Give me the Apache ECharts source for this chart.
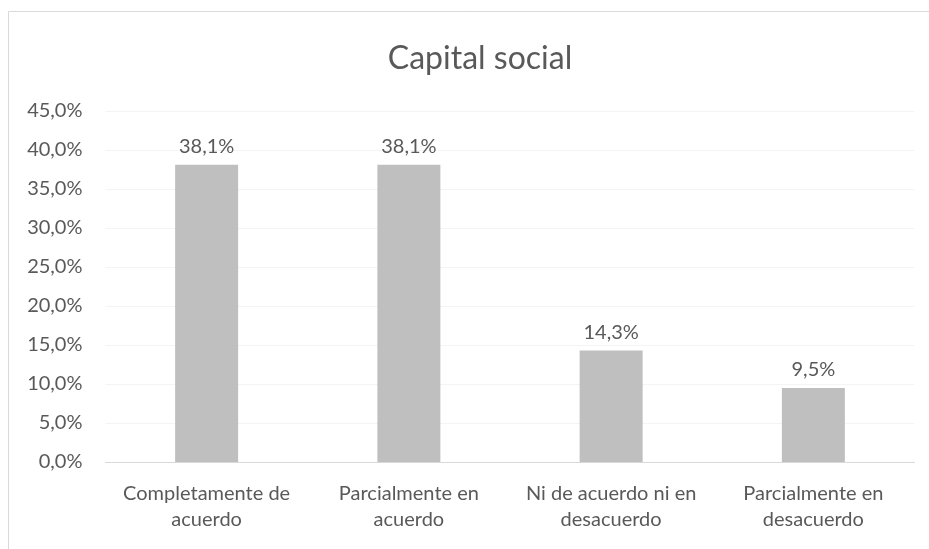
<!DOCTYPE html>
<html><head><meta charset="utf-8">
<script src="https://cdn.jsdelivr.net/npm/echarts@6/dist/echarts.min.js"></script>
<style>html,body{margin:0;padding:0;background:#fff}#c{width:929px;height:549px}</style>
</head><body><div id="c"></div>
<script>
const categories = ['Completamente de\nacuerdo', 'Parcialmente en\nacuerdo', 'Ni de acuerdo ni en\ndesacuerdo', 'Parcialmente en\ndesacuerdo'];
const values = [38.1, 38.1, 14.3, 9.5];
const title = 'Capital social';
const fmt = v => v.toFixed(1).replace('.', ',') + '%';
const font = 'Lato, "Open Sans", sans-serif';
const chart = echarts.init(document.getElementById('c'));
chart.setOption({
  animation: false,
  backgroundColor: '#fff',
  textStyle: { fontFamily: font },
  graphic: [{ type: 'rect', shape: { x: 8.5, y: 11.5, width: 940, height: 560 }, style: { fill: 'none', stroke: '#d9d9d9', lineWidth: 1 } }],
  title: { text: title, left: 475, textAlign: 'center', top: 38, textStyle: { fontFamily: font, fontSize: 32, fontWeight: 'normal', color: '#595959' } },
  grid: { left: 105.5, right: 14.5, top: 111, bottom: 87 },
  xAxis: {
    type: 'category', data: categories,
    axisLine: { lineStyle: { color: '#d9d9d9' } }, axisTick: { show: false },
    axisLabel: { interval: 0, hideOverlap: false, color: '#595959', fontSize: 20, lineHeight: 26, margin: 19, fontFamily: font }
  },
  yAxis: {
    type: 'value', min: 0, max: 45, interval: 5,
    axisLabel: { formatter: v => fmt(v), color: '#595959', fontSize: 20, margin: 23, fontFamily: font },
    splitLine: { show: true, lineStyle: { color: '#f4f4f4' } }, axisLine: { show: false }, axisTick: { show: false }
  },
  series: [{
    type: 'bar', data: values, barWidth: 63,
    itemStyle: { color: '#bfbfbf' },
    label: { show: true, position: 'top', distance: 8, formatter: p => fmt(p.value), color: '#595959', fontSize: 20, fontFamily: font }
  }]
});
</script></body></html>
